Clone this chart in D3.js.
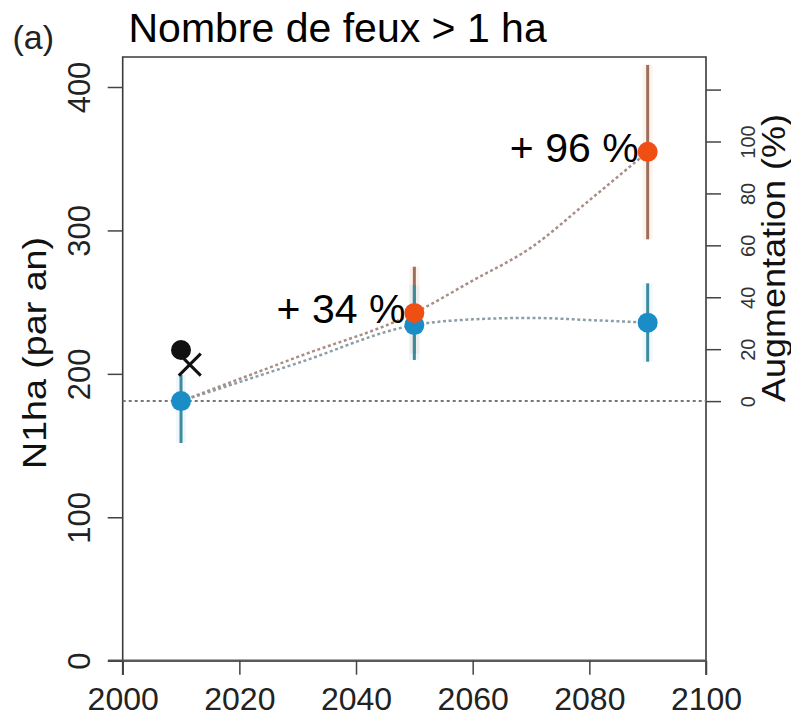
<!DOCTYPE html>
<html>
<head>
<meta charset="utf-8">
<script src="https://cdn.jsdelivr.net/npm/d3@7"></script>
<style>
  html, body { margin: 0; padding: 0; background: #fff; }
  svg { display: block; font-family: "Liberation Sans", Arial, Helvetica, sans-serif; }
</style>
</head>
<body>
<svg id="chart" width="791" height="716"></svg>
<script>
// Number of fires > 1 ha per year: reference period and projections
const baseline = 181;                       // reference-period value (0 % on the right axis)

const blueYears = [2010, 2050, 2090];
const blueMean  = [181, 234, 235.7];
const blueLow   = [151.8, 209.7, 208.5];
const blueHigh  = [199.2, 262, 263.1];

const orangeYears = [2050, 2090];
const orangeMean  = [242.5, 354.8];
const orangeLow   = [214, 293.8];
const orangeHigh  = [274.7, 415.4];

const observedYear  = [2010];
const observedValue = [216.6];
const crossYear  = [2011.5];
const crossValue = [206.4];

const trendYears  = [2010, 2030, 2050, 2060, 2070, 2080, 2090];
const orangeTrend = [181, 211.8, 242.5, 265, 288, 321, 354.8];
const blueTrend   = [181, 207.5, 234, 238, 239, 237.5, 235.7];

const xTicks = [2000, 2020, 2040, 2060, 2080, 2100];
const yTicks = [0, 100, 200, 300, 400];
const pctTicks = [0, 20, 40, 60, 80, 100, 120];

const chartTitle = "Nombre de feux > 1 ha";
const panelTag = "(a)";
const yLabel = "N1ha (par an)";
const y2Label = "Augmentation (%)";

// ---- layout ----
const plotLeft = 122.7, plotRight = 706, plotTop = 57, zeroY = 660.7;
const svg = d3.select("#chart");

const x = d3.scaleLinear().domain([2000, 2100]).range([plotLeft, plotRight]);
const y = d3.scaleLinear().domain([0, 400]).range([zeroY, 87]);
const yPct = d3.scaleLinear().domain([0, 120])
  .range([y(baseline), y(baseline * 2.2)]);

const COL_ORANGE = "#F04F14", COL_BLUE = "#1A8DC6";
const BAR_ORANGE = "#9C6E5C", BAR_BLUE = "#3F8A9C";
const FONT = "Liberation Sans, Arial, sans-serif";

// ---- frame ----
svg.append("path")
  .attr("d", `M${plotLeft},675 L${plotLeft},${plotTop} L${plotRight},${plotTop} L${plotRight},675`)
  .attr("fill", "none").attr("stroke", "#3a3a3a").attr("stroke-width", 1.6);

svg.append("line")
  .attr("x1", 108).attr("x2", plotRight).attr("y1", zeroY).attr("y2", zeroY)
  .attr("stroke", "#5a5a5a").attr("stroke-width", 2.6);

// ---- bottom axis ----
const gx = svg.append("g").attr("transform", `translate(0,${zeroY})`)
  .call(d3.axisBottom(x).tickValues(xTicks).tickFormat(d3.format("d"))
    .tickSize(14).tickPadding(13));
gx.select(".domain").remove();
gx.selectAll(".tick line").attr("stroke", "#444").attr("stroke-width", 1.5);
gx.selectAll(".tick text").attr("font-size", 32).attr("fill", "#222")
  .attr("font-family", FONT);

// ---- left axis ----
const gy = svg.append("g").attr("transform", `translate(${plotLeft},0)`)
  .call(d3.axisLeft(y).tickValues(yTicks).tickSize(15));
gy.select(".domain").remove();
gy.selectAll(".tick line").attr("stroke", "#444").attr("stroke-width", 1.5);
gy.selectAll(".tick text")
  .attr("transform", "rotate(-90)")
  .attr("x", 0).attr("y", -33).attr("dy", 0)
  .attr("text-anchor", "middle")
  .attr("font-size", 31).attr("fill", "#222")
  .attr("font-family", FONT);

// ---- right axis (percent change from the reference value) ----
const gy2 = svg.append("g").attr("transform", `translate(${plotRight},0)`)
  .call(d3.axisRight(yPct).tickValues(pctTicks).tickSize(15)
    .tickFormat(d => d <= 100 ? d : ""));
gy2.select(".domain").remove();
gy2.selectAll(".tick line").attr("stroke", "#444").attr("stroke-width", 1.5);
gy2.selectAll(".tick text")
  .attr("transform", "rotate(-90)")
  .attr("x", 0).attr("y", 49).attr("dy", 0)
  .attr("text-anchor", "middle")
  .attr("font-size", 20).attr("fill", "#333")
  .attr("font-family", FONT);

// ---- axis titles ----
svg.append("text")
  .attr("transform", "translate(46,353) rotate(-90)")
  .attr("text-anchor", "middle").attr("font-size", 33).attr("fill", "#111")
  .attr("textLength", 232).attr("lengthAdjust", "spacingAndGlyphs")
  .text(yLabel);
svg.append("text")
  .attr("transform", "translate(785,258) rotate(-90)")
  .attr("text-anchor", "middle").attr("font-size", 33).attr("fill", "#111")
  .attr("textLength", 288).attr("lengthAdjust", "spacingAndGlyphs")
  .text(y2Label);
svg.append("text")
  .attr("x", 128.5).attr("y", 41.7).attr("font-size", 41).attr("fill", "#000")
  .text(chartTitle);
svg.append("text")
  .attr("x", 12.5).attr("y", 49).attr("font-size", 34).attr("fill", "#222")
  .text(panelTag);

// ---- reference level (0 %) ----
svg.append("line")
  .attr("x1", plotLeft).attr("x2", plotRight)
  .attr("y1", y(baseline)).attr("y2", y(baseline))
  .attr("stroke", "#777").attr("stroke-width", 2).attr("stroke-dasharray", "3,3");

// ---- dotted trend curves ----
const trendLine = vals => d3.line()
  .x((d, i) => x(trendYears[i])).y(d => y(d))
  .curve(d3.curveMonotoneX)(vals);
svg.append("path").attr("d", trendLine(blueTrend))
  .attr("fill", "none").attr("stroke", "#8E9EA6").attr("stroke-width", 2.5)
  .attr("stroke-dasharray", "3,2.6");
svg.append("path").attr("d", trendLine(orangeTrend))
  .attr("fill", "none").attr("stroke", "#A78E86").attr("stroke-width", 2.5)
  .attr("stroke-dasharray", "3,2.6");

// ---- error bars ----
function bars(years, lo, hi, col, halo) {
  const g = svg.append("g");
  g.selectAll("line.halo").data(years).join("line").attr("class", "halo")
    .attr("x1", d => x(d)).attr("x2", d => x(d))
    .attr("y1", (d, i) => y(lo[i])).attr("y2", (d, i) => y(hi[i]))
    .attr("stroke", halo).attr("stroke-width", 10).attr("opacity", 0.12);
  g.selectAll("line.bar").data(years).join("line").attr("class", "bar")
    .attr("x1", d => x(d)).attr("x2", d => x(d))
    .attr("y1", (d, i) => y(lo[i])).attr("y2", (d, i) => y(hi[i]))
    .attr("stroke", col).attr("stroke-width", 3);
}
bars(orangeYears, orangeLow, orangeHigh, BAR_ORANGE, "#F6A070");
bars(blueYears, blueLow, blueHigh, BAR_BLUE, "#7CC8E8");

// ---- observed value and cross marker ----
svg.selectAll("circle.obs").data(observedYear).join("circle").attr("class", "obs")
  .attr("cx", d => x(d)).attr("cy", (d, i) => y(observedValue[i]))
  .attr("r", 10).attr("fill", "#111");
const crossArm = 11;
svg.selectAll("path.cross").data(crossYear).join("path").attr("class", "cross")
  .attr("transform", (d, i) => `translate(${x(d)},${y(crossValue[i])})`)
  .attr("d", `M${-crossArm},${-crossArm}L${crossArm},${crossArm}M${-crossArm},${crossArm}L${crossArm},${-crossArm}`)
  .attr("fill", "none").attr("stroke", "#111").attr("stroke-width", 3);

// ---- increase labels ----
svg.selectAll("text.pct").data(orangeYears).join("text").attr("class", "pct")
  .attr("x", d => x(d) - 9)
  .attr("y", (d, i) => y(orangeMean[i]) + 10)
  .attr("text-anchor", "end").attr("font-size", 41).attr("fill", "#000")
  .text((d, i) => `+ ${Math.round((orangeMean[i] / baseline - 1) * 100)} %`);

// ---- mean points ----
svg.selectAll("circle.blue").data(blueYears).join("circle").attr("class", "blue")
  .attr("cx", d => x(d)).attr("cy", (d, i) => y(blueMean[i]))
  .attr("r", 10).attr("fill", COL_BLUE);
svg.selectAll("circle.orange").data(orangeYears).join("circle").attr("class", "orange")
  .attr("cx", d => x(d)).attr("cy", (d, i) => y(orangeMean[i]))
  .attr("r", 10).attr("fill", COL_ORANGE);
</script>
</body>
</html>
